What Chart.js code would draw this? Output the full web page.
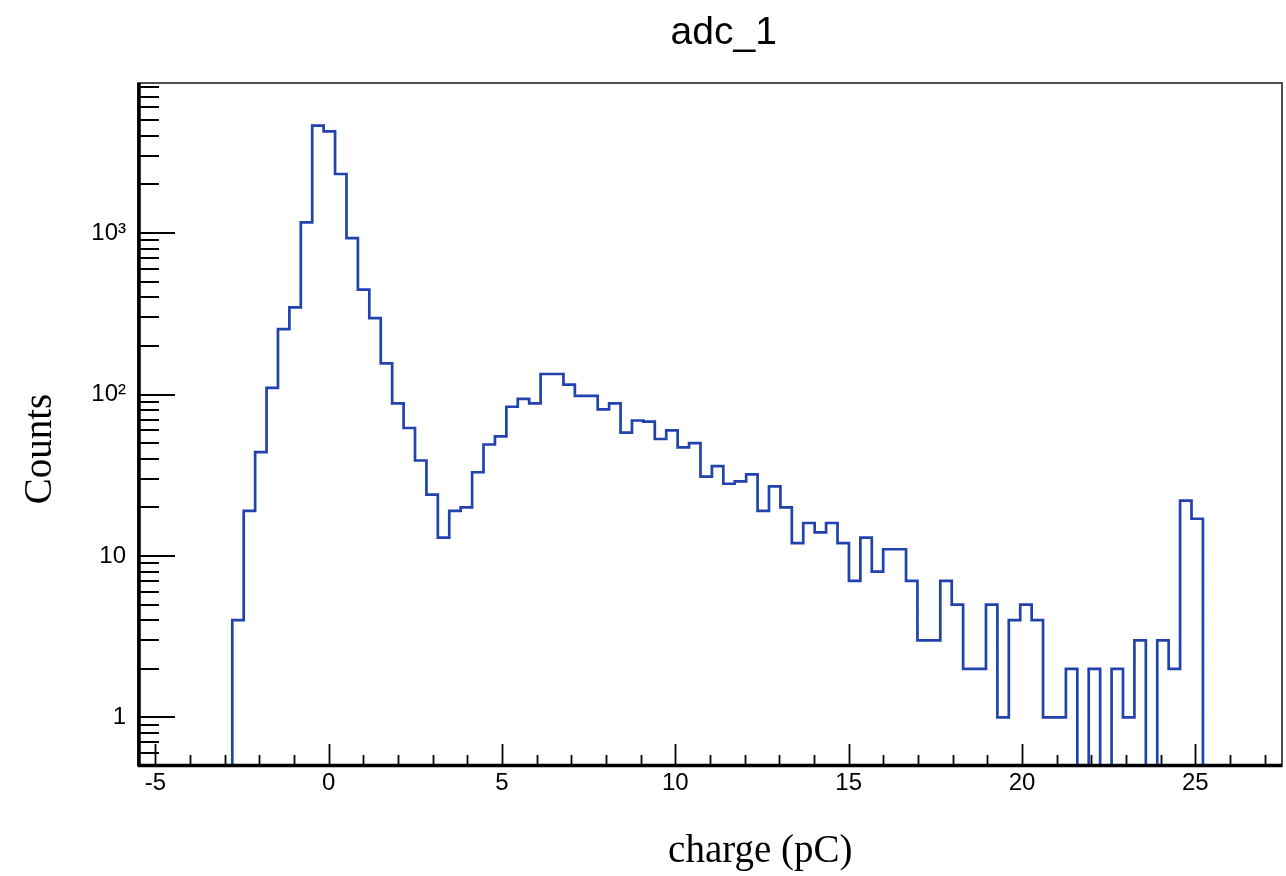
<!DOCTYPE html>
<html>
<head>
<meta charset="utf-8">
<script src="https://cdn.jsdelivr.net/npm/chart.js@4.4.1/dist/chart.umd.min.js"></script>
<style>
  html, body { margin: 0; padding: 0; background: #ffffff; }
  #wrap { position: relative; width: 1286px; height: 876px; }
</style>
</head>
<body>
<div id="wrap"><canvas id="c" width="1286" height="876"></canvas></div>
<script>
// ---------------- data ----------------
const chartTitle = 'adc_1';
const xTitle = 'charge (pC)';
const yTitle = 'Counts';

// histogram: first non-empty bin's low edge and the bin width (pC)
const binLow = -2.78;
const binWidth = 0.3294;
// counts per bin, left to right
const counts = [
  4, 19, 44, 110, 254, 346, 1163, 4624, 4262, 2321,
  930, 446, 297, 156, 88, 62, 39, 24, 13, 19,
  20, 33, 49, 55, 84, 94, 88, 134, 134, 115,
  98, 98, 81, 88, 58, 69, 68, 53, 60, 47,
  50, 31, 36, 28, 29, 32, 19, 27, 20, 12,
  16, 14, 16, 12, 7, 13, 8, 11, 11, 7,
  3, 3, 7, 5, 2, 2, 5, 1, 4, 5,
  4, 1, 1, 2, 0, 2, 0, 2, 1, 3,
  0, 3, 2, 22, 17
];

const xRange = [-5.5, 27.5];
const yRange = [0.5, 8500];
const xMajorTicks = [-5, 0, 5, 10, 15, 20, 25];
const xMajorLabels = ['-5', '0', '5', '10', '15', '20', '25'];
const yMajorTicks = [1, 10, 100, 1000];
const yMajorLabels = ['1', '10', '10\u00B2', '10\u00B3'];
const yDecades = [0.1, 1, 10, 100, 1000];

// ---------------- build the step outline ----------------
const floorValue = yRange[0];          // empty bins sit on the frame bottom, as in ROOT
const pts = [{ x: binLow, y: floorValue }];
counts.forEach((c, i) => pts.push({ x: binLow + i * binWidth, y: c > 0 ? c : floorValue }));
const lastEdge = binLow + counts.length * binWidth;
pts.push({ x: lastEdge, y: counts[counts.length - 1] || floorValue });
pts.push({ x: lastEdge, y: floorValue });

// tick values
const xTickValues = [];
for (let v = Math.ceil(xRange[0]); v <= Math.floor(xRange[1]); v++) xTickValues.push(v);
const yTickValues = [];
yDecades.forEach(d => { for (let m = 1; m <= 9; m++) { const v = +(m * d).toPrecision(6); if (v >= yRange[0] && v <= yRange[1]) yTickValues.push(v); } });

// ---------------- ROOT-like frame, inward ticks and titles ----------------
const rootAxes = {
  id: 'rootAxes',
  afterDatasetsDraw(chart) {
    const { ctx, chartArea: a, scales: { x, y } } = chart;
    ctx.save();
    ctx.strokeStyle = '#000';
    ctx.lineWidth = 1.8;
    x.ticks.forEach(t => {
      const px = Math.round(x.getPixelForValue(t.value)) + 0.5;
      const len = xMajorTicks.includes(t.value) ? 22 : 11;
      ctx.beginPath(); ctx.moveTo(px, a.bottom); ctx.lineTo(px, a.bottom - len); ctx.stroke();
    });
    ctx.lineWidth = 2;
    y.ticks.forEach(t => {
      const py = Math.round(y.getPixelForValue(t.value));
      const len = yMajorTicks.includes(t.value) ? 37 : 21;
      ctx.beginPath(); ctx.moveTo(a.left, py); ctx.lineTo(a.left + len, py); ctx.stroke();
    });
    // frame
    ctx.lineWidth = 1.6;
    ctx.strokeStyle = '#222';
    ctx.strokeRect(a.left, a.top, a.right - a.left, a.bottom - a.top);
    ctx.strokeStyle = '#000';
    ctx.lineWidth = 3.5;
    ctx.beginPath();
    ctx.moveTo(a.left + 1, a.top); ctx.lineTo(a.left + 1, a.bottom);
    ctx.moveTo(a.left, a.bottom - 0.5); ctx.lineTo(a.right, a.bottom - 0.5);
    ctx.stroke();
    ctx.restore();
  },
  afterDraw(chart) {
    const { ctx, chartArea: a } = chart;
    const w = a.right - a.left, h = a.bottom - a.top;
    ctx.save();
    ctx.fillStyle = '#000';
    ctx.textBaseline = 'alphabetic';
    ctx.textAlign = 'center';
    ctx.font = '39px "Liberation Sans", Arial, sans-serif';
    ctx.fillText(chartTitle, a.left + 0.512 * w, 44);
    ctx.font = '39px "Liberation Serif", "Times New Roman", serif';
    ctx.fillText(xTitle, a.left + 0.544 * w, 862);
    ctx.translate(51, a.top + 0.536 * h);
    ctx.rotate(-Math.PI / 2);
    ctx.fillText(yTitle, 0, 0);
    ctx.restore();
  }
};

new Chart(document.getElementById('c'), {
  type: 'line',
  data: {
    datasets: [{
      label: chartTitle,
      data: pts,
      stepped: true,
      borderColor: '#2242ad',
      borderWidth: 2.7,
      pointRadius: 0,
      fill: false,
      tension: 0
    }]
  },
  options: {
    responsive: false,
    animation: false,
    devicePixelRatio: 1,
    layout: { padding: { top: 83, right: 4, left: 0, bottom: 0 } },
    plugins: { legend: { display: false }, tooltip: { enabled: false }, title: { display: false } },
    scales: {
      x: {
        type: 'linear',
        min: xRange[0], max: xRange[1],
        afterBuildTicks: s => { s.ticks = xTickValues.map(v => ({ value: v })); },
        afterFit: s => { s.height = 110; },
        grid: { display: false, drawTicks: false },
        border: { display: false },
        ticks: {
          autoSkip: false, maxRotation: 0, padding: 3, color: '#000',
          font: { family: '"Liberation Sans", Arial, sans-serif', size: 24 },
          callback: v => { const i = xMajorTicks.indexOf(v); return i >= 0 ? xMajorLabels[i] : ''; }
        }
      },
      y: {
        type: 'logarithmic',
        min: yRange[0], max: yRange[1],
        afterBuildTicks: s => { s.ticks = yTickValues.map(v => ({ value: v })); },
        afterFit: s => { s.width = 138; },
        grid: { display: false, drawTicks: false },
        border: { display: false },
        ticks: {
          autoSkip: false, padding: 12, color: '#000',
          font: { family: '"Liberation Sans", Arial, sans-serif', size: 24 },
          callback: v => { const i = yMajorTicks.indexOf(v); return i >= 0 ? yMajorLabels[i] : ''; }
        }
      }
    }
  },
  plugins: [rootAxes]
});
</script>
</body>
</html>
